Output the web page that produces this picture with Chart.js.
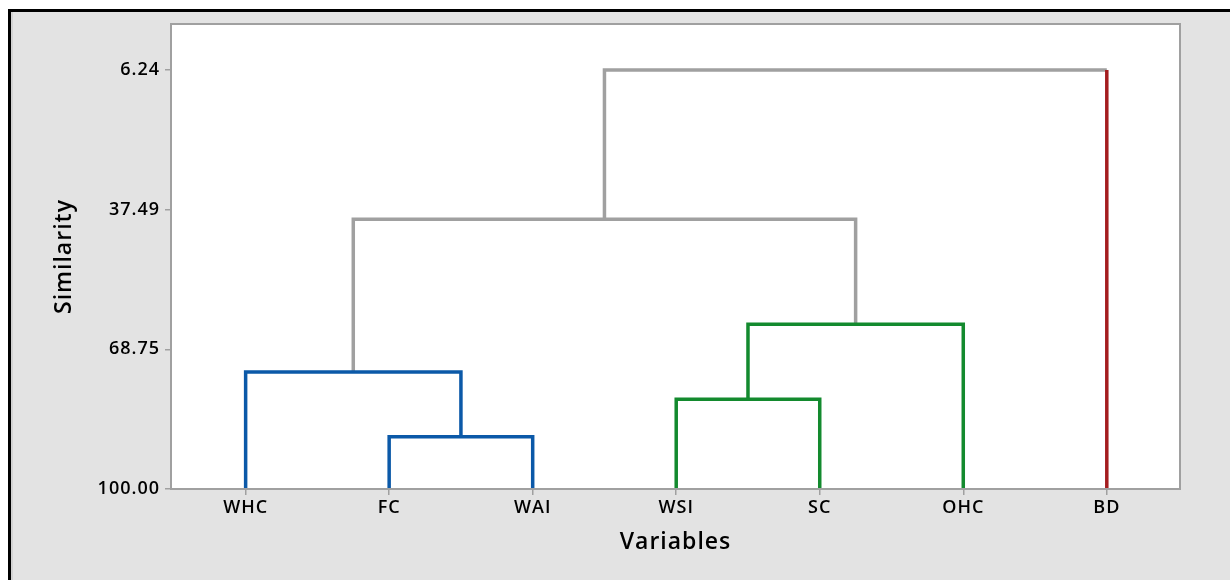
<!DOCTYPE html>
<html lang="en">
<head>
    <meta charset="UTF-8">
    <title>Dendrogram</title>
    <style>
        body { margin: 0; background: #ffffff; }
        .wrap { position: relative; width: 1230px; height: 580px; overflow: hidden; }
        .frame {
            position: absolute; left: 8px; top: 9px; right: -10px; bottom: -10px;
            border-left: 3px solid #000; border-top: 3px solid #000;
            background: #e3e3e3;
            box-shadow: inset 2px 0 0 #d2d2d2;
        }
        .chart-box { position: absolute; left: 0; top: 0; width: 1230px; height: 580px; }
    </style>
</head>
<body>
    <div class="wrap">
        <div class="frame"></div>
        <div class="chart-box">
            <canvas id="dendro"></canvas>
        </div>
    </div>
    <script src="https://cdn.jsdelivr.net/npm/chart.js@4/dist/chart.umd.min.js"></script>
    <script>
        // variables (leaves), left to right
        const labels = ['WHC', 'FC', 'WAI', 'WSI', 'SC', 'OHC', 'BD']
        // final cluster of each leaf
        const leafGroup = [0, 0, 0, 1, 1, 1, 2]
        const groupColors = ['#0b59a8', '#138a2e', '#a41d1f']
        const linkGray = '#a0a0a0'

        // merges: [left cluster, right cluster, similarity]
        // leaves are 0..6, every merge makes a new cluster 7, 8, ...
        const merges = [
            [1, 2, 88.30],
            [0, 7, 73.82],
            [3, 4, 79.93],
            [9, 5, 63.15],
            [8, 10, 39.65],
            [11, 6, 6.24],
        ]

        const yTicks = [6.24, 37.49, 68.75, 100.00]

        // position, height and leaves for every cluster
        const pos = labels.map((v, i) => i + 1)
        const height = labels.map(() => 100)
        const members = labels.map((v, i) => [i])

        function clusterColor(c) {
            const g = members[c].map(i => leafGroup[i])
            return g.every(v => v === g[0]) ? groupColors[g[0]] : null
        }

        const datasets = []
        merges.forEach((m) => {
            const [a, b, h] = m
            const id = pos.length
            pos.push((pos[a] + pos[b]) / 2)
            height.push(h)
            members.push(members[a].concat(members[b]))

            const own = clusterColor(id)
            const legColor = (c) => own || (c < labels.length ? groupColors[leafGroup[c]] : linkGray)
            const colors = [legColor(a), own || linkGray, legColor(b)]

            datasets.push({
                data: [
                    { x: pos[a], y: height[a] },
                    { x: pos[a], y: h },
                    { x: pos[b], y: h },
                    { x: pos[b], y: height[b] },
                ],
                borderWidth: 3.5,
                borderColor: colors[1],
                borderJoinStyle: 'miter',
                borderCapStyle: 'butt',
                pointRadius: 0,
                tension: 0,
                segment: {
                    borderColor: (ctx) => colors[ctx.p0DataIndex],
                },
            })
        })

        const tickFont = { family: '"Open Sans", sans-serif', size: 18, weight: '600' }
        const titleFont = { family: '"Open Sans", sans-serif', size: 23, weight: '600' }

        // white plot area and grey frame round it
        const plotFrame = {
            id: 'plotFrame',
            beforeDraw(chart) {
                const { ctx, chartArea: a } = chart
                ctx.save()
                ctx.fillStyle = '#ffffff'
                ctx.fillRect(a.left, a.top, a.right - a.left, a.bottom - a.top)
                ctx.restore()
                ctx.letterSpacing = '1px'
            },
            afterDatasetsDraw(chart) {
                const { ctx, chartArea: a } = chart
                ctx.save()
                ctx.strokeStyle = '#a0a0a0'
                ctx.lineWidth = 2
                ctx.strokeRect(a.left, a.top, a.right - a.left, a.bottom - a.top)
                ctx.restore()
            },
        }

        new Chart(document.querySelector('#dendro'), {
            type: 'line',
            data: { datasets: datasets },
            plugins: [plotFrame],
            options: {
                responsive: true,
                maintainAspectRatio: false,
                animation: false,
                layout: { padding: { left: 0, top: 24, right: 50, bottom: 0 } },
                plugins: {
                    legend: { display: false },
                    tooltip: { enabled: false },
                },
                scales: {
                    x: {
                        type: 'linear',
                        min: 0.48,
                        max: 7.51,
                        afterBuildTicks: (scale) => {
                            scale.ticks = pos.slice(0, labels.length).map(v => ({ value: v }))
                        },
                        afterFit: (scale) => { scale.height = 91 },
                        ticks: {
                            autoSkip: false,
                            maxRotation: 0,
                            padding: 2,
                            color: '#000000',
                            font: tickFont,
                            callback: (v) => labels[v - 1],
                        },
                        grid: { drawOnChartArea: false, tickLength: 6, color: '#a0a0a0', lineWidth: 1.5 },
                        border: { display: false },
                        title: {
                            display: true,
                            text: 'Variables',
                            color: '#000000',
                            font: titleFont,
                            padding: { top: 0, bottom: 24 },
                        },
                    },
                    y: {
                        type: 'linear',
                        reverse: true,
                        min: -4.05,
                        max: 100,
                        afterBuildTicks: (scale) => {
                            scale.ticks = yTicks.map(v => ({ value: v }))
                        },
                        afterFit: (scale) => { scale.width = 171 },
                        ticks: {
                            padding: 5,
                            color: '#000000',
                            font: tickFont,
                            callback: (v) => v.toFixed(2),
                        },
                        grid: { drawOnChartArea: false, tickLength: 6, color: '#a0a0a0', lineWidth: 1.5 },
                        border: { display: false },
                        title: {
                            display: true,
                            text: 'Similarity',
                            color: '#000000',
                            font: titleFont,
                            padding: { top: 51, bottom: 0 },
                        },
                    },
                },
            },
        })
    </script>
</body>
</html>
